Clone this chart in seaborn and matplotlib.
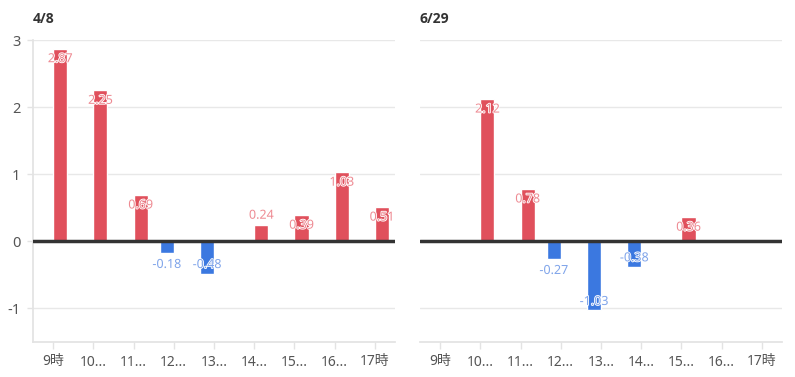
import matplotlib
matplotlib.use("Agg")
import matplotlib.pyplot as plt
import matplotlib.patheffects as pe
import seaborn as sns
import pandas as pd
import numpy as np

categories = ["9時", "10時", "11時", "12時", "13時", "14時", "15時", "16時", "17時"]
tick_labels = ["9時", "10...", "11...", "12...", "13...", "14...", "15...", "16...", "17時"]
titles = ["4/8", "6/29"]
values_48 = [2.87, 2.25, 0.69, -0.18, -0.48, 0.24, 0.39, 1.03, 0.51]
values_629 = [None, 2.12, 0.78, -0.27, -1.03, -0.38, 0.36, None, None]
yticks = [-1, 0, 1, 2, 3]

RED = "#e0505c"
BLUE = "#3b78e0"
RED_TXT = "#ee8a92"
BLUE_TXT = "#7fa4ea"

sns.set_theme(style="white")
plt.rcParams["font.family"] = ["Noto Sans", "Noto Sans CJK JP", "DejaVu Sans"]
plt.rcParams["axes.unicode_minus"] = False

fig = plt.figure(figsize=(7.95, 3.77), dpi=100)
ax1 = fig.add_axes([33/795, 1-342/377, 362/795, (342-40)/377])
ax2 = fig.add_axes([420/795, 1-342/377, 362/795, (342-40)/377])

px = 72/100.0  # points per pixel

for ax, vals, title, show_y in [(ax1, values_48, titles[0], True), (ax2, values_629, titles[1], False)]:
    rows = []
    for c, v in zip(categories, vals):
        if v is None:
            continue
        rows.append({"cat": c, "val": v, "sign": "neg" if v < 0 else "pos"})
    df = pd.DataFrame(rows)
    sns.barplot(data=df, x="cat", y="val", hue="sign", order=categories,
                hue_order=["neg", "pos"], palette={"neg": BLUE, "pos": RED},
                dodge=True, width=0.7, saturation=1, ax=ax, legend=False, errorbar=None)
    ax.set_xlim(-0.5, len(categories) - 0.5)
    ax.set_ylim(-1.5, 3)
    ax.set_yticks(yticks)
    ax.grid(axis="y", color="#e8e8e8", lw=1)
    ax.set_axisbelow(True)
    ax.axhline(0, color="#333333", lw=2.5, zorder=3)
    for s in ["top", "right"]:
        ax.spines[s].set_visible(False)
    ax.spines["bottom"].set_color("#e3e3e3")
    ax.spines["left"].set_color("#e3e3e3")
    ax.spines["left"].set_visible(show_y)
    ax.set_xlabel("")
    ax.set_ylabel("")
    ax.set_xticks(range(len(categories)))
    ax.set_xticklabels(tick_labels)
    ax.tick_params(axis="x", colors="#e3e3e3", labelcolor="#555555", labelsize=10,
                   length=5, width=1, bottom=True, pad=4)
    if show_y:
        ax.tick_params(axis="y", colors="#e3e3e3", labelcolor="#555555", labelsize=10.5,
                       length=4, width=1, left=True, pad=5)
    else:
        ax.tick_params(axis="y", left=False, labelleft=False)
    ax.set_title(title, loc="left", fontsize=10, fontweight="bold", color="#333333",
                 pad=12, x=0.0, family=["Open Sans", "DejaVu Sans"])
    # value labels
    for p in ax.patches:
        h = p.get_height()
        if h == 0 or np.isnan(h):
            continue
        xc = p.get_x() + p.get_width() / 2
        if h > 0:
            off = -10 if h >= 0.3 else 10
            col = RED_TXT
        else:
            off = 9 if h <= -0.3 else -11
            col = BLUE_TXT
        ax.annotate(f"{h:.2f}", (xc, h), xytext=(0, off * px), textcoords="offset points",
                    ha="center", va="center", fontsize=9, color=col, zorder=5,
                    path_effects=[pe.withStroke(linewidth=1.2, foreground="white")])

fig.savefig("out.png", dpi=100)
